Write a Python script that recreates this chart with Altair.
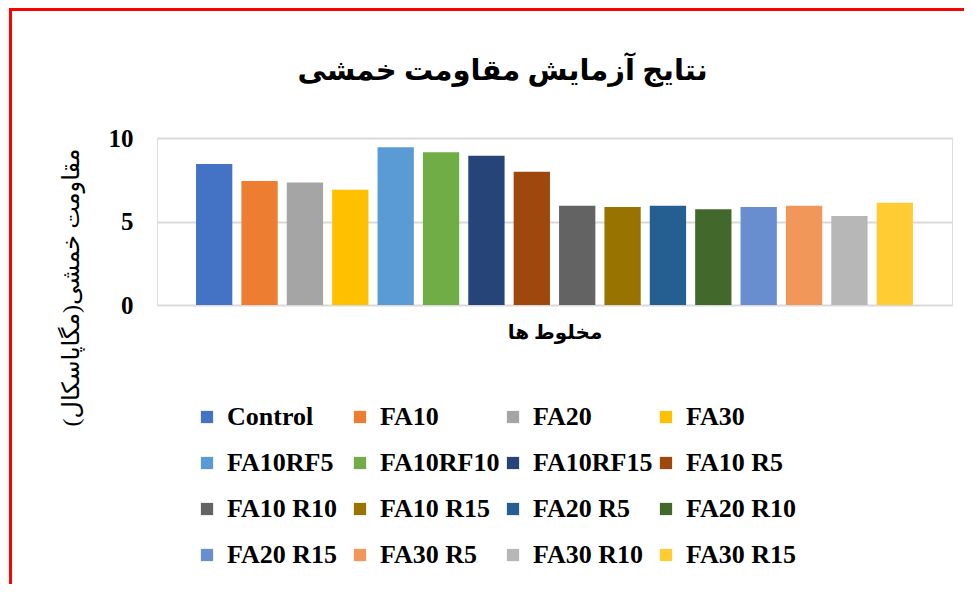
import altair as alt
import pandas as pd

mixes = ["Control", "FA10", "FA20", "FA30", "FA10RF5", "FA10RF10", "FA10RF15", "FA10 R5",
         "FA10 R10", "FA10 R15", "FA20 R5", "FA20 R10", "FA20 R15", "FA30 R5", "FA30 R10", "FA30 R15"]
strength = [8.45, 7.42, 7.34, 6.9, 9.45, 9.15, 8.93, 7.98,
            5.95, 5.87, 5.95, 5.74, 5.87, 5.95, 5.33, 6.12]
colors = ["#4472C4", "#ED7D31", "#A5A5A5", "#FFC000", "#5B9BD5", "#70AD47", "#264478", "#9E480E",
          "#636363", "#997300", "#255E91", "#43682B", "#698ED0", "#F1975A", "#B7B7B7", "#FFCD33"]

chart_title = "نتایج آزمایش مقاومت خمشی"
y_title = "مقاومت خمشی(مگاپاسکال)"
x_title = "مخلوط ها"

df = pd.DataFrame({"mix": mixes, "strength": strength})

serif = "Liberation Serif, DejaVu Sans"

bars = alt.Chart(df).mark_bar().encode(
    x=alt.X("mix:N", sort=mixes,
            scale=alt.Scale(paddingInner=0.2, paddingOuter=0.86),
            axis=alt.Axis(title=x_title, labels=False, ticks=False, domain=False,
                          titlePadding=17, titleFont=serif, titleFontSize=20,
                          titleFontWeight="bold", titleColor="black")),
    y=alt.Y("strength:Q", scale=alt.Scale(domain=[0, 10]),
            axis=alt.Axis(values=[0, 5, 10], title=y_title, ticks=False, domain=False,
                          gridColor="#D9D9D9", gridWidth=2,
                          labelFont="Liberation Serif", labelFontSize=25, labelFontWeight="bold",
                          labelColor="black", labelPadding=24,
                          titleFont=serif, titleFontSize=24, titleFontWeight="normal",
                          titleColor="black", titleAngle=270, titleAlign="center",
                          titleBaseline="middle", titleX=-86, titleY=149)),
    color=alt.Color("mix:N", sort=mixes,
                    scale=alt.Scale(domain=mixes, range=colors),
                    legend=alt.Legend(title=None, orient="none", legendX=37, legendY=266,
                                      direction="horizontal",
                                      columns=4, gridAlign="all", columnPadding=0, rowPadding=20,
                                      symbolType="square", symbolSize=150, symbolStrokeWidth=0,
                                      labelFont="Liberation Serif", labelFontSize=26,
                                      labelFontWeight="bold", labelColor="black",
                                      labelOffset=7, labelLimit=300)),
)

frame_data = alt.Data(values=[{"k": 1}])
frame_left = alt.Chart(frame_data).mark_rect(color="#FF0000").encode(
    x=alt.value(-148), x2=alt.value(-145), y=alt.value(-130), y2=alt.value(446))
frame_top = alt.Chart(frame_data).mark_rect(color="#FF0000").encode(
    x=alt.value(-148), x2=alt.value(807), y=alt.value(-130), y2=alt.value(-127))

chart = alt.layer(bars, frame_left, frame_top).properties(
    width=795, height=167,
    autosize=alt.AutoSizeParams(type="none"),
    padding={"left": 149, "top": 130, "right": 12, "bottom": 279},
    title=alt.TitleParams(chart_title, font=serif, fontSize=29, fontWeight="bold",
                          color="black", anchor="middle", frame="bounds", offset=0,
                          dx=16, dy=78),
).configure_view(strokeWidth=0).configure(background="white")

chart.save("out.html", embed_options={"renderer": "svg", "actions": False})
